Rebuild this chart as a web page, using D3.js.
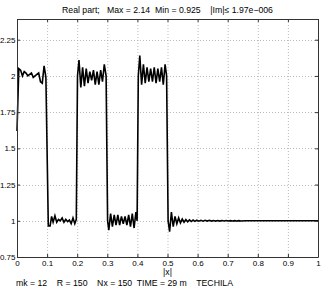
<!DOCTYPE html>
<html>
<head>
<meta charset="utf-8">
<script src="https://cdn.jsdelivr.net/npm/d3@7"></script>
<style>
body { margin: 0; background: #fff; }
svg text { font-family: "Liberation Sans", Arial, sans-serif; font-size: 8px; fill: #000; white-space: pre; }
svg text.lbl { font-size: 8.7px; }
</style>
</head>
<body>
<svg id="chart" width="323" height="289"></svg>
<script>
'use strict';

const xVals = [
	0, 0.006, 0.012, 0.018, 0.024, 0.030, 0.036, 0.042, 0.048, 0.054, 0.060, 0.066, 0.072, 0.078, 0.084, 0.090, 0.096,
	0.104, 0.110, 0.115, 0.120, 0.126, 0.132, 0.138, 0.144, 0.150, 0.156, 0.162, 0.168, 0.174, 0.180, 0.186, 0.192, 0.197,
	0.201, 0.206, 0.212, 0.218, 0.224, 0.230, 0.236, 0.242, 0.248, 0.254, 0.260, 0.266, 0.272, 0.278, 0.284, 0.290, 0.296,
	0.301, 0.305, 0.311, 0.317, 0.323, 0.329, 0.335, 0.341, 0.347, 0.353, 0.359, 0.365, 0.371, 0.377, 0.383, 0.389, 0.395, 0.399,
	0.403, 0.408, 0.414, 0.420, 0.426, 0.432, 0.438, 0.444, 0.450, 0.456, 0.462, 0.468, 0.474, 0.480, 0.486, 0.492, 0.497,
	0.502, 0.507, 0.513, 0.519, 0.525, 0.531, 0.537, 0.543, 0.549, 0.555, 0.561, 0.567, 0.573, 0.579, 0.585, 0.591, 0.597,
	0.604, 0.611, 0.618, 0.625, 0.632, 0.639, 0.646, 0.653, 0.660, 0.667, 0.674, 0.681, 0.688, 0.695, 0.702, 0.709, 0.716,
	0.723, 0.730, 0.737, 0.744, 0.76, 0.8, 0.9, 1.0
];
const yVals = [
	1.62, 2.05, 2.04, 2.00, 2.03, 2.02, 2.00, 2.01, 2.02, 1.99, 2.00, 2.01, 2.02, 1.96, 1.95, 2.07, 1.99,
	0.965, 0.965, 1.03, 0.99, 1.035, 0.99, 1.01, 1.00, 1.02, 0.99, 1.01, 0.995, 1.005, 0.98, 1.02, 0.98, 1.01,
	2.00, 2.11, 1.92, 2.06, 1.93, 2.05, 1.95, 2.03, 1.97, 2.04, 1.94, 2.03, 1.94, 2.04, 1.96, 2.08, 2.00,
	1.00, 0.935, 1.05, 0.96, 1.04, 0.97, 1.04, 0.97, 1.03, 0.98, 1.03, 0.97, 1.04, 0.96, 1.05, 0.95, 1.06, 1.00,
	2.00, 2.14, 1.94, 2.08, 1.95, 2.06, 1.96, 2.05, 1.96, 2.06, 1.95, 2.05, 1.96, 2.06, 1.94, 2.08, 2.00,
	1.00, 0.925, 1.06, 0.96, 1.03, 0.98, 1.02, 0.985, 1.012, 0.99, 1.008, 0.993, 1.006, 0.995, 1.005, 0.996, 1.004,
	0.997, 1.003, 0.997, 1.003, 0.998, 1.003, 0.998, 1.002, 0.998, 1.002, 0.998, 1.002, 0.999, 1.002, 0.999, 1.001, 0.999,
	1.001, 0.999, 1.001, 0.999, 1.0, 1.0, 1.0, 1.0
];

const xTicks = [0, 0.1, 0.2, 0.3, 0.4, 0.5, 0.6, 0.7, 0.8, 0.9, 1];
const yTicks = [0.75, 1, 1.25, 1.5, 1.75, 2, 2.25];
const xDomain = [0, 1];
const yDomain = [0.75, 2.393];

const titleText = "Real part;   Max = 2.14  Min = 0.925    |Im|\u2264 1.97e\u2212006";
const xLabel = "|x|";
const footText = "mk = 12    R = 150    Nx = 150  TIME = 29 m    TECHILA";

let svg = d3.select("#chart"),
	margin = {top: 19, right: 5, bottom: 32, left: 17},
	width = +svg.attr("width") - margin.left - margin.right,
	height = +svg.attr("height") - margin.top - margin.bottom,
	g = svg.append("g").attr("transform", "translate(" + margin.left + "," + margin.top + ")");

let x = d3.scaleLinear().domain(xDomain).range([0, width]);
let y = d3.scaleLinear().domain(yDomain).range([height, 0]);

// dotted grid
g.append("g")
	.selectAll("line")
	.data(xTicks.slice(1, -1))
	.enter().append("line")
	.attr("x1", d => x(d) + 0.5).attr("x2", d => x(d) + 0.5)
	.attr("y1", 0).attr("y2", height)
	.attr("stroke", "#aaa").attr("stroke-width", 0.8)
	.attr("stroke-dasharray", "1,2");
g.append("g")
	.selectAll("line")
	.data(yTicks.slice(1))
	.enter().append("line")
	.attr("x1", 0).attr("x2", width)
	.attr("y1", d => Math.round(y(d)) + 0.5).attr("y2", d => Math.round(y(d)) + 0.5)
	.attr("stroke", "#aaa").attr("stroke-width", 0.8)
	.attr("stroke-dasharray", "1,2");

// data line
let pts = xVals.map((d, i) => ({x: d, y: yVals[i]}));
g.append("path")
	.datum(pts)
	.attr("fill", "none")
	.attr("stroke", "#000")
	.attr("stroke-width", 1.6)
	.attr("stroke-linejoin", "miter")
	.attr("d", d3.line().x(d => x(d.x)).y(d => y(d.y)));

// axes, ticks inward
let xAxis = g.append("g")
	.attr("transform", "translate(0," + height + ")")
	.call(d3.axisBottom(x).tickValues(xTicks).tickSizeInner(-3).tickSizeOuter(0).tickPadding(3).tickFormat(d3.format("")));
let xTop = g.append("g")
	.call(d3.axisTop(x).tickValues(xTicks).tickSizeInner(-3).tickSizeOuter(0).tickFormat(""));
let yAxis = g.append("g")
	.call(d3.axisLeft(y).tickValues(yTicks).tickSizeInner(-3).tickSizeOuter(0).tickPadding(1.5).tickFormat(d3.format("")));
let yRight = g.append("g")
	.attr("transform", "translate(" + width + ",0)")
	.call(d3.axisRight(y).tickValues(yTicks).tickSizeInner(-3).tickSizeOuter(0).tickFormat(""));

[xAxis, xTop, yAxis, yRight].forEach(function(a) {
	a.select(".domain").attr("stroke", "#333");
	a.selectAll(".tick line").attr("stroke", "#333");
	a.selectAll("text").attr("font-size", null).attr("font-family", null);
});

svg.append("text")
	.attr("class", "lbl")
	.attr("x", margin.left + width / 2)
	.attr("y", 12.5)
	.attr("text-anchor", "middle")
	.text(titleText);

svg.append("text")
	.attr("class", "lbl")
	.attr("x", margin.left + width / 2)
	.attr("y", 275)
	.attr("text-anchor", "middle")
	.text(xLabel);

svg.append("text")
	.attr("class", "lbl")
	.attr("x", 16)
	.attr("y", 286)
	.text(footText);
</script>
</body>
</html>
